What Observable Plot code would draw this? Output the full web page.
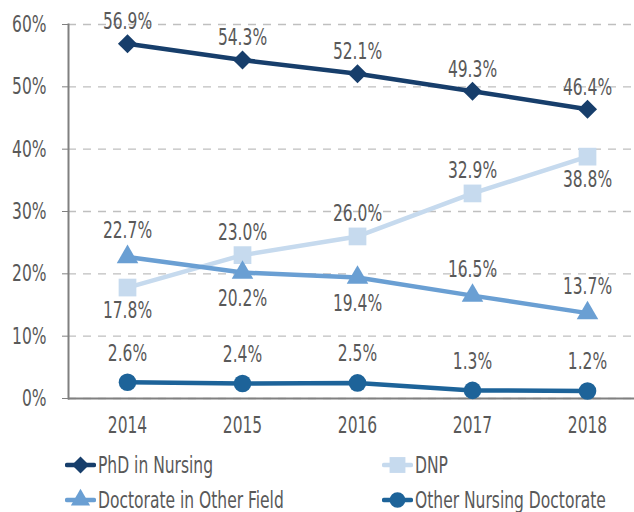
<!DOCTYPE html>
<html>
<head>
<meta charset="utf-8">
<script src="https://cdn.jsdelivr.net/npm/d3@7"></script>
<script src="https://cdn.jsdelivr.net/npm/@observablehq/plot@0.6"></script>
<style>
  html, body { margin: 0; padding: 0; background: #fff; }
  #chart { width: 634px; }
  svg text { font-stretch: condensed; }
  .legend { font-family: "DejaVu Sans Condensed", "DejaVu Sans", sans-serif; font-stretch: condensed; font-size: 23px; color: #595959; position: relative; height: 72px; }
  .item { position: absolute; display: flex; align-items: center; height: 30px; white-space: nowrap; }
  .item svg { display: block; }
  .item span { display: inline-block; transform: scaleX(0.75); transform-origin: left center; margin-left: 2px; }
</style>
</head>
<body>
<div id="chart"></div>
<script>
const years = [2014, 2015, 2016, 2017, 2018];
const seriesNames = ["PhD in Nursing", "DNP", "Doctorate in Other Field", "Other Nursing Doctorate"];
const phd = [56.9, 54.3, 52.1, 49.3, 46.4];
const dnp = [17.8, 23.0, 26.0, 32.9, 38.8];
const otherField = [22.7, 20.2, 19.4, 16.5, 13.7];
const otherNursing = [2.6, 2.4, 2.5, 1.3, 1.2];
const yTicks = [0, 10, 20, 30, 40, 50, 60];
// label placement: true = above the marker, false = below
const dnpAbove = [false, true, true, true, false];
const otherFieldAbove = [true, false, false, true, true];

const colors = ["#173e6b", "#c6daee", "#6a9fd3", "#1d6399"];
const symbols = ["diamond2", "square", "triangle", "circle"];
const radii = [8.6, 10, 8, 8.8];
const values = [phd, dnp, otherField, otherNursing];
const aboveFlags = [years.map(() => true), dnpAbove, otherFieldAbove, years.map(() => true)];
const aboveDy = [-22, -23, -26, -29];
const belowDy = [21, 23, 26, 22];

const rows = [];
seriesNames.forEach((s, si) => {
  years.forEach((yr, i) => rows.push({series: s, si, year: yr, value: values[si][i], above: aboveFlags[si][i]}));
});

const font = "'DejaVu Sans Condensed', 'DejaVu Sans', sans-serif";
const fs = 23;
const marks = [
  Plot.gridY(yTicks, {stroke: "#bfbfbf", strokeOpacity: 1, strokeWidth: 1.3, strokeDasharray: "8,7"}),
  Plot.axisY({ticks: yTicks, tickFormat: d => d + "%", tickSize: 6, tickPadding: 16, stroke: "#808080", fontSize: fs, fill: "#595959", label: null}),
  Plot.axisX({ticks: years, tickFormat: d => String(d), tickSize: 0, tickPadding: 18, fontSize: fs, fill: "#595959", label: null}),
  Plot.ruleY([0], {stroke: "#808080", strokeWidth: 2}),
  Plot.frame({anchor: "left", stroke: "#808080", strokeWidth: 2}),
];
seriesNames.forEach((s, si) => {
  const d = rows.filter(r => r.si === si);
  marks.push(Plot.line(d, {x: "year", y: "value", stroke: colors[si], strokeWidth: 4.5}));
  marks.push(Plot.dot(d, {x: "year", y: "value", symbol: () => symbols[si], fill: colors[si], stroke: "none", r: radii[si]}));
  marks.push(Plot.text(d.filter(r => r.above), {x: "year", y: "value", text: r => r.value.toFixed(1) + "%", dy: aboveDy[si], fontSize: fs, fill: "#595959"}));
  marks.push(Plot.text(d.filter(r => !r.above), {x: "year", y: "value", text: r => r.value.toFixed(1) + "%", dy: belowDy[si], fontSize: fs, fill: "#595959"}));
});

const plot = Plot.plot({
  width: 634,
  height: 440,
  marginTop: 24,
  marginBottom: 42,
  marginLeft: 68,
  marginRight: 0,
  style: {fontFamily: font, background: "#fff", overflow: "visible"},
  x: {type: "point", domain: years, range: [126, 587], padding: 0},
  y: {domain: [0, 60], range: [398, 24]},
  symbol: {type: "identity"},
  marks
});
// horizontally condense every text around its own anchor point
plot.querySelectorAll("text").forEach(t => {
  const tr = t.getAttribute("transform") || "";
  t.setAttribute("transform", (tr + " scale(0.75,1)").trim());
});
document.getElementById("chart").appendChild(plot);

// legend (HTML below the SVG)
const legend = document.createElement("div");
legend.className = "legend";
const positions = [[65, 25], [382, 25], [65, 60], [382, 60]];
seriesNames.forEach((s, si) => {
  const item = document.createElement("div");
  item.className = "item";
  item.style.left = positions[si][0] + "px";
  item.style.top = (positions[si][1] - 15) + "px";
  const sw = d3.create("svg").attr("width", 31).attr("height", 24);
  sw.append("line").attr("x1", 2).attr("x2", 29).attr("y1", 12).attr("y2", 12)
    .attr("stroke", colors[si]).attr("stroke-width", 4.5).attr("stroke-linecap", "round");
  const symMap = {diamond2: d3.symbolDiamond2, square: d3.symbolSquare, triangle: d3.symbolTriangle, circle: d3.symbolCircle};
  const area = Math.PI * radii[si] * radii[si] * 0.8;
  sw.append("path").attr("d", d3.symbol(symMap[symbols[si]], area)()).attr("transform", "translate(15.5,12)").attr("fill", colors[si]);
  item.appendChild(sw.node());
  const t = document.createElement("span");
  t.textContent = s;
  item.appendChild(t);
  legend.appendChild(item);
});
document.getElementById("chart").appendChild(legend);
</script>
</body>
</html>
